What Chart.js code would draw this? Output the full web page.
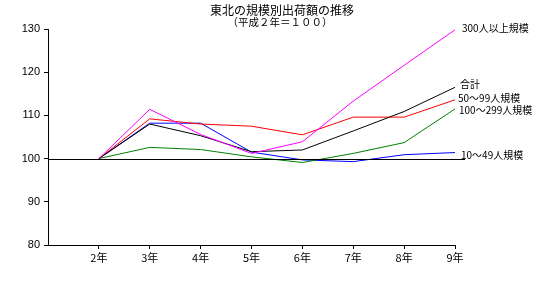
<!DOCTYPE html>
<html>
<head>
<meta charset="utf-8">
<script src="https://cdn.jsdelivr.net/npm/chart.js@4/dist/chart.umd.min.js"></script>
<style>
  html, body { margin: 0; padding: 0; background: #fff; }
  #wrap { width: 540px; height: 288px; }
</style>
</head>
<body>
<div id="wrap"><canvas id="trend" aria-label="line chart" role="img"></canvas></div>
<script>
// 年次（先頭は軸の起点用の空カテゴリ）
var years = ["", "2年", "3年", "4年", "5年", "6年", "7年", "8年", "9年"];

var over300 = [null, 100, 111.4, 105.6, 101.2, 103.9, 113.3, 121.6, 129.8];
var total = [null, 100, 108.0, 105.3, 101.6, 102.0, 106.4, 110.9, 116.5];
var size50to99 = [null, 100, 109.2, 108.0, 107.5, 105.5, 109.6, 109.6, 113.6];
var size100to299 = [null, 100, 102.6, 102.1, 100.4, 99.1, 101.2, 103.7, 111.5];
var size10to49 = [null, 100, 108.2, 108.2, 101.5, 99.7, 99.3, 100.9, 101.4];

var seriesNames = ["300人以上規模", "合計", "50～99人規模", "100～299人規模", "10～49人規模"];

var jpFont = "'Noto Sans CJK JP', 'DejaVu Sans', sans-serif";

var overlay = {
  id: "overlay",
  afterDraw: function (chart) {
    var ctx = chart.ctx;
    var area = chart.chartArea;
    var y = chart.scales.y;
    ctx.save();
    // 100 の基準線
    var y100 = Math.round(y.getPixelForValue(100)) + 0.5;
    ctx.strokeStyle = "#000";
    ctx.lineWidth = 1;
    ctx.beginPath();
    ctx.moveTo(area.left, y100);
    ctx.lineTo(area.right + 10, y100);
    ctx.stroke();

    // タイトル
    ctx.fillStyle = "#000";
    ctx.textAlign = "center";
    ctx.textBaseline = "middle";
    ctx.font = "12px " + jpFont;
    ctx.fillText("東北の規模別出荷額の推移", 282, 10);
    ctx.font = "10.5px " + jpFont;
    ctx.fillText("（平成２年＝１００）", 280, 22);

    // 系列名
    ctx.textAlign = "left";
    ctx.font = "10px " + jpFont;
    ctx.fillText(seriesNames[0], 462, 28);
    ctx.fillText(seriesNames[1], 460, 84);
    ctx.fillText(seriesNames[2], 458, 98);
    ctx.fillText(seriesNames[3], 459, 110);
    ctx.fillText(seriesNames[4], 461, 155);
    ctx.restore();
  }
};

function line(data, color) {
  return {
    data: data,
    borderColor: color,
    backgroundColor: color,
    borderWidth: 1,
    pointRadius: 0,
    tension: 0,
    fill: false
  };
}

var chart = new Chart(document.getElementById("trend").getContext("2d"), {
  type: "line",
  data: {
    labels: years,
    datasets: [
      line(over300, "#ff00ff"),
      line(total, "#000000"),
      line(size50to99, "#ff0000"),
      line(size100to299, "#008000"),
      line(size10to49, "#0000ff")
    ]
  },
  options: {
    responsive: true,
    maintainAspectRatio: false,
    animation: false,
    layout: { padding: { top: 29, right: 85, left: 0, bottom: 0 } },
    plugins: {
      legend: { display: false },
      tooltip: { enabled: false }
    },
    scales: {
      x: {
        offset: false,
        grid: {
          display: true,
          drawOnChartArea: false,
          drawTicks: true,
          tickLength: 4,
          color: function (c) { return c.index === 0 ? "rgba(0,0,0,0)" : "#000"; }
        },
        border: { display: true, color: "#000", width: 1 },
        ticks: {
          color: "#000",
          font: { size: 11, family: jpFont },
          padding: 2,
          maxRotation: 0,
          autoSkip: false
        },
        afterFit: function (scale) { scale.height = 43; }
      },
      y: {
        min: 80,
        max: 130,
        grid: {
          display: true,
          drawOnChartArea: false,
          drawTicks: true,
          tickLength: 4,
          color: "#000"
        },
        border: { display: true, color: "#000", width: 1 },
        ticks: {
          stepSize: 10,
          color: "#000",
          font: { size: 11, family: "'Liberation Sans', sans-serif" },
          padding: 4
        },
        afterFit: function (scale) { scale.width = 48; }
      }
    }
  },
  plugins: [overlay]
});
</script>
</body>
</html>
